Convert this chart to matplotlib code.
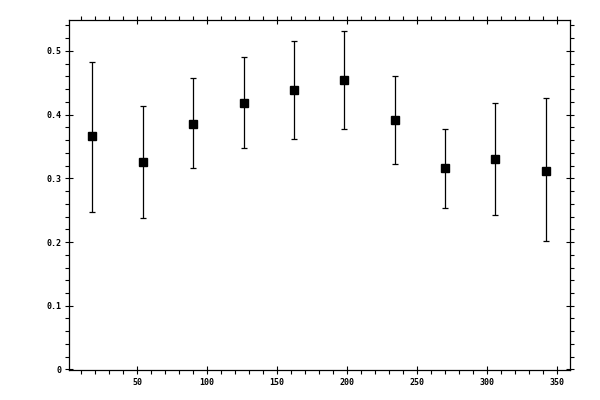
import matplotlib
matplotlib.use('Agg')
import matplotlib.pyplot as plt
from matplotlib.ticker import MultipleLocator, FixedLocator

# Values (bin centres, mean, error bar ends)
angle = [18, 54, 90, 126, 162, 198, 234, 270, 306, 342]
value = [0.366, 0.325, 0.386, 0.419, 0.438, 0.455, 0.392, 0.316, 0.330, 0.312]
upper = [0.483, 0.414, 0.457, 0.490, 0.515, 0.532, 0.461, 0.378, 0.418, 0.426]
lower = [0.247, 0.237, 0.316, 0.347, 0.361, 0.378, 0.323, 0.254, 0.242, 0.201]

err_low = [v - l for v, l in zip(value, lower)]
err_high = [u - v for u, v in zip(upper, value)]

fig = plt.figure(figsize=(6, 4), dpi=100)
ax = fig.add_axes([0.1155, 0.0743, 0.835, 0.8765])

ax.errorbar(angle, value, yerr=[err_low, err_high], fmt='s', color='black',
            markersize=5.2, elinewidth=0.9, capsize=2.0, capthick=0.9)

ax.set_xlim(1.5, 359.5)
ax.set_ylim(-0.0013, 0.549)

ax.xaxis.set_major_locator(MultipleLocator(50))
ax.xaxis.set_minor_locator(MultipleLocator(10))
ax.yaxis.set_major_locator(FixedLocator([0, 0.1, 0.2, 0.3, 0.4, 0.5]))
ax.yaxis.set_minor_locator(MultipleLocator(0.02))
ax.set_yticklabels(['0', '0.1', '0.2', '0.3', '0.4', '0.5'])

for spine in ax.spines.values():
    spine.set_linewidth(0.9)

ax.tick_params(which='major', direction='inout', length=5.8, width=0.8,
               top=True, right=True, labelsize=6, pad=2.5)
ax.tick_params(which='minor', direction='out', length=2.9, width=0.8,
               top=True, right=True)
for lab in ax.get_xticklabels() + ax.get_yticklabels():
    lab.set_family('DejaVu Sans Mono')
    lab.set_fontweight('bold')

plt.savefig('out.png', dpi=100)
